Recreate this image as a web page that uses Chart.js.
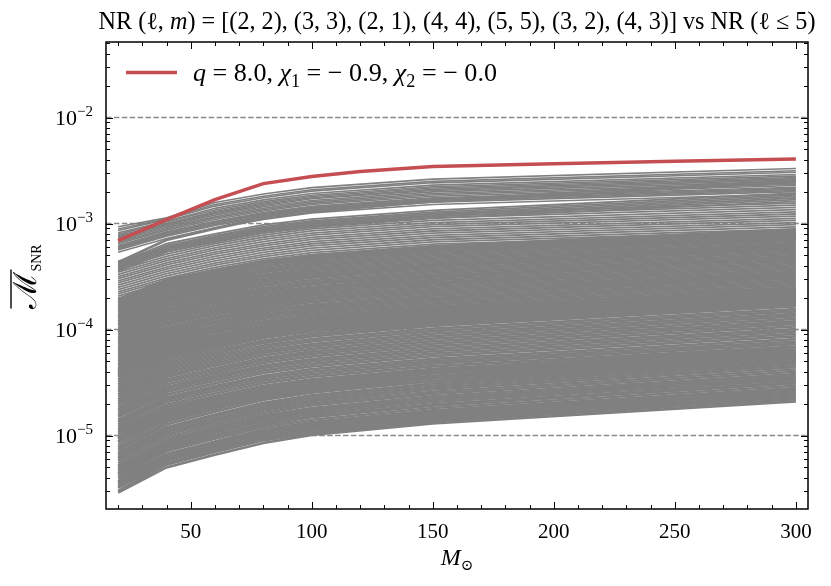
<!DOCTYPE html>
<html><head><meta charset="utf-8">
<script src="https://cdn.jsdelivr.net/npm/chart.js@4/dist/chart.umd.min.js"></script>
<style>html,body{margin:0;padding:0;background:#fff}</style>
</head><body><canvas id="c" width="831" height="586"></canvas>
<script>
// ---------------- data ----------------
const massGrid = [20, 40, 60, 80, 100, 150, 300];
const redMass = [20, 40, 60, 80, 100, 120, 150, 200, 250, 300];
const redValues = [6.9e-4, 1.09e-3, 1.68e-3, 2.38e-3, 2.77e-3, 3.1e-3, 3.45e-3, 3.66e-3, 3.86e-3, 4.07e-3];
const xTickValues = [50, 100, 150, 200, 250, 300];
const yTickExponents = [-2, -3, -4, -5];

const grayLow = [
[2.9e-6,5.0e-6,6.6e-6,8.5e-6,1.01e-5,1.30e-5,2.1e-5],
[3.0e-6,5.3e-6,7.0e-6,9.0e-6,1.05e-5,1.36e-5,2.2e-5],
[3.2e-6,5.5e-6,7.3e-6,9.4e-6,1.10e-5,1.42e-5,2.3e-5],
[3.3e-6,5.8e-6,7.6e-6,9.8e-6,1.15e-5,1.48e-5,2.4e-5],
[3.45e-6,6.0e-6,7.9e-6,1.02e-5,1.20e-5,1.54e-5,2.5e-5],
[3.6e-6,6.2e-6,8.2e-6,1.06e-5,1.25e-5,1.60e-5,2.6e-5],
[3.7e-6,6.5e-6,8.5e-6,1.10e-5,1.29e-5,1.67e-5,2.7e-5],
[3.9e-6,6.7e-6,8.8e-6,1.14e-5,1.34e-5,1.73e-5,2.8e-5],
[4.1e-6,7.1e-6,9.3e-6,1.20e-5,1.41e-5,1.82e-5,2.95e-5],
[4.3e-6,7.4e-6,9.8e-6,1.26e-5,1.49e-5,1.91e-5,3.1e-5],
[4.4e-6,7.7e-6,1.01e-5,1.30e-5,1.53e-5,1.97e-5,3.2e-5],
[4.6e-6,8.0e-6,1.06e-5,1.36e-5,1.60e-5,2.07e-5,3.35e-5],
[4.8e-6,8.4e-6,1.11e-5,1.42e-5,1.68e-5,2.16e-5,3.5e-5],
[5.0e-6,8.8e-6,1.15e-5,1.49e-5,1.75e-5,2.25e-5,3.65e-5],
[5.2e-6,9.1e-6,1.20e-5,1.55e-5,1.82e-5,2.35e-5,3.8e-5],
[5.5e-6,9.6e-6,1.26e-5,1.63e-5,1.92e-5,2.47e-5,4.0e-5],
[5.8e-6,1.01e-5,1.33e-5,1.71e-5,2.01e-5,2.59e-5,4.2e-5],
[6.1e-6,1.06e-5,1.39e-5,1.79e-5,2.11e-5,2.72e-5,4.4e-5],
[6.3e-6,1.10e-5,1.45e-5,1.87e-5,2.20e-5,2.84e-5,4.6e-5],
[6.6e-6,1.15e-5,1.52e-5,1.95e-5,2.30e-5,2.96e-5,4.8e-5],
[6.9e-6,1.20e-5,1.58e-5,2.04e-5,2.40e-5,3.09e-5,5.0e-5],
[7.3e-6,1.27e-5,1.68e-5,2.16e-5,2.54e-5,3.27e-5,5.3e-5],
[7.7e-6,1.34e-5,1.77e-5,2.28e-5,2.68e-5,3.46e-5,5.6e-5],
[8.1e-6,1.42e-5,1.86e-5,2.40e-5,2.83e-5,3.64e-5,5.9e-5],
[8.7e-6,1.51e-5,1.99e-5,2.56e-5,3.02e-5,3.89e-5,6.3e-5],
[9.4e-6,1.63e-5,2.15e-5,2.77e-5,3.26e-5,4.20e-5,6.8e-5]
];
const grayMidLow = [
[8.7e-6,1.42e-5,1.81e-5,2.26e-5,2.61e-5,3.26e-5,5.0e-5],
[9.2e-6,1.50e-5,1.91e-5,2.40e-5,2.76e-5,3.46e-5,5.3e-5],
[9.7e-6,1.58e-5,2.02e-5,2.53e-5,2.92e-5,3.65e-5,5.6e-5],
[1.03e-5,1.67e-5,2.13e-5,2.67e-5,3.07e-5,3.85e-5,5.9e-5],
[1.08e-5,1.75e-5,2.24e-5,2.80e-5,3.23e-5,4.04e-5,6.2e-5],
[1.13e-5,1.84e-5,2.35e-5,2.94e-5,3.39e-5,4.24e-5,6.5e-5],
[1.20e-5,1.95e-5,2.49e-5,3.12e-5,3.59e-5,4.50e-5,6.9e-5],
[1.27e-5,2.07e-5,2.64e-5,3.30e-5,3.80e-5,4.76e-5,7.3e-5],
[1.34e-5,2.18e-5,2.78e-5,3.48e-5,4.01e-5,5.02e-5,7.7e-5],
[1.41e-5,2.29e-5,2.92e-5,3.66e-5,4.22e-5,5.28e-5,8.1e-5],
[1.50e-5,2.43e-5,3.10e-5,3.89e-5,4.48e-5,5.61e-5,8.6e-5],
[1.58e-5,2.58e-5,3.29e-5,4.11e-5,4.74e-5,5.93e-5,9.1e-5],
[1.67e-5,2.72e-5,3.47e-5,4.34e-5,5.00e-5,6.26e-5,9.6e-5],
[1.76e-5,2.86e-5,3.65e-5,4.57e-5,5.26e-5,6.59e-5,1.01e-4],
[1.86e-5,3.03e-5,3.86e-5,4.84e-5,5.57e-5,6.98e-5,1.07e-4],
[1.97e-5,3.20e-5,4.08e-5,5.11e-5,5.89e-5,7.37e-5,1.13e-4],
[2.07e-5,3.37e-5,4.30e-5,5.38e-5,6.20e-5,7.76e-5,1.19e-4],
[2.19e-5,3.57e-5,4.55e-5,5.70e-5,6.56e-5,8.22e-5,1.26e-4],
[2.31e-5,3.76e-5,4.80e-5,6.01e-5,6.93e-5,8.67e-5,1.33e-4],
[2.44e-5,3.96e-5,5.05e-5,6.33e-5,7.29e-5,9.13e-5,1.40e-4],
[2.58e-5,4.19e-5,5.34e-5,6.69e-5,7.71e-5,9.65e-5,1.48e-4],
[2.71e-5,4.41e-5,5.63e-5,7.05e-5,8.13e-5,1.02e-4,1.56e-4],
[2.87e-5,4.67e-5,5.96e-5,7.46e-5,8.60e-5,1.08e-4,1.65e-4],
[3.03e-5,4.92e-5,6.28e-5,7.86e-5,9.07e-5,1.13e-4,1.74e-4],
[3.20e-5,5.21e-5,6.64e-5,8.32e-5,9.59e-5,1.20e-4,1.84e-4],
[3.38e-5,5.49e-5,7.00e-5,8.77e-5,1.01e-4,1.26e-4,1.94e-4],
[3.57e-5,5.80e-5,7.40e-5,9.27e-5,1.07e-4,1.34e-4,2.05e-4],
[3.76e-5,6.11e-5,7.80e-5,9.76e-5,1.13e-4,1.41e-4,2.16e-4],
[3.97e-5,6.45e-5,8.23e-5,1.03e-4,1.19e-4,1.49e-4,2.28e-4],
[4.18e-5,6.79e-5,8.66e-5,1.08e-4,1.25e-4,1.56e-4,2.40e-4]
];
const grayMidHigh = [
[3.72e-5,5.68e-5,7.02e-5,8.53e-5,9.66e-5,1.17e-4,1.70e-4],
[3.90e-5,5.95e-5,7.35e-5,8.94e-5,1.01e-4,1.23e-4,1.78e-4],
[4.10e-5,6.25e-5,7.72e-5,9.39e-5,1.06e-4,1.29e-4,1.87e-4],
[4.29e-5,6.55e-5,8.09e-5,9.84e-5,1.11e-4,1.35e-4,1.96e-4],
[4.51e-5,6.88e-5,8.51e-5,1.03e-4,1.17e-4,1.42e-4,2.06e-4],
[4.73e-5,7.21e-5,8.92e-5,1.08e-4,1.23e-4,1.49e-4,2.16e-4],
[4.97e-5,7.58e-5,9.38e-5,1.14e-4,1.29e-4,1.57e-4,2.27e-4],
[5.21e-5,7.95e-5,9.83e-5,1.19e-4,1.35e-4,1.64e-4,2.38e-4],
[5.48e-5,8.35e-5,1.03e-4,1.26e-4,1.42e-4,1.73e-4,2.50e-4],
[5.74e-5,8.75e-5,1.08e-4,1.32e-4,1.49e-4,1.81e-4,2.62e-4],
[6.02e-5,9.19e-5,1.14e-4,1.38e-4,1.56e-4,1.90e-4,2.75e-4],
[6.33e-5,9.65e-5,1.19e-4,1.45e-4,1.64e-4,1.99e-4,2.89e-4],
[6.64e-5,1.01e-4,1.25e-4,1.52e-4,1.72e-4,2.09e-4,3.03e-4],
[6.96e-5,1.06e-4,1.31e-4,1.60e-4,1.81e-4,2.19e-4,3.18e-4],
[7.31e-5,1.12e-4,1.38e-4,1.68e-4,1.90e-4,2.30e-4,3.34e-4],
[7.67e-5,1.17e-4,1.45e-4,1.76e-4,1.99e-4,2.42e-4,3.50e-4],
[8.06e-5,1.23e-4,1.52e-4,1.85e-4,2.09e-4,2.54e-4,3.68e-4],
[8.45e-5,1.29e-4,1.59e-4,1.94e-4,2.19e-4,2.66e-4,3.86e-4],
[8.87e-5,1.35e-4,1.67e-4,2.03e-4,2.30e-4,2.79e-4,4.05e-4],
[9.31e-5,1.42e-4,1.76e-4,2.13e-4,2.41e-4,2.93e-4,4.25e-4],
[9.77e-5,1.49e-4,1.84e-4,2.24e-4,2.53e-4,3.08e-4,4.46e-4],
[1.02e-4,1.56e-4,1.93e-4,2.35e-4,2.66e-4,3.23e-4,4.68e-4],
[1.08e-4,1.64e-4,2.03e-4,2.46e-4,2.79e-4,3.39e-4,4.91e-4],
[1.13e-4,1.72e-4,2.13e-4,2.59e-4,2.93e-4,3.56e-4,5.16e-4],
[1.19e-4,1.81e-4,2.24e-4,2.72e-4,3.08e-4,3.74e-4,5.42e-4],
[1.25e-4,1.90e-4,2.35e-4,2.86e-4,3.23e-4,3.93e-4,5.69e-4],
[1.31e-4,1.99e-4,2.47e-4,3.00e-4,3.39e-4,4.12e-4,5.97e-4],
[1.37e-4,2.09e-4,2.59e-4,3.15e-4,3.56e-4,4.33e-4,6.27e-4],
[1.44e-4,2.20e-4,2.72e-4,3.30e-4,3.74e-4,4.54e-4,6.58e-4],
[1.51e-4,2.31e-4,2.85e-4,3.47e-4,3.92e-4,4.77e-4,6.91e-4],
[1.59e-4,2.42e-4,2.99e-4,3.64e-4,4.12e-4,5.00e-4,7.25e-4],
[1.67e-4,2.54e-4,3.14e-4,3.82e-4,4.32e-4,5.25e-4,7.61e-4],
[1.75e-4,2.67e-4,3.30e-4,4.02e-4,4.54e-4,5.52e-4,8.00e-4],
[1.84e-4,2.81e-4,3.47e-4,4.22e-4,4.77e-4,5.80e-4,8.40e-4],
[1.93e-4,2.94e-4,3.63e-4,4.42e-4,5.00e-4,6.07e-4,8.80e-4]
];
const grayHigh = [
[1.97e-4,2.66e-4,3.35e-4,4.03e-4,4.63e-4,5.56e-4,7.0e-4],
[2.07e-4,2.79e-4,3.52e-4,4.23e-4,4.86e-4,5.84e-4,7.35e-4],
[2.17e-4,2.93e-4,3.69e-4,4.43e-4,5.09e-4,6.11e-4,7.7e-4],
[2.27e-4,3.06e-4,3.86e-4,4.63e-4,5.32e-4,6.39e-4,8.05e-4],
[2.38e-4,3.21e-4,4.05e-4,4.86e-4,5.59e-4,6.71e-4,8.45e-4],
[2.50e-4,3.36e-4,4.24e-4,5.09e-4,5.85e-4,7.03e-4,8.85e-4],
[2.62e-4,3.53e-4,4.45e-4,5.35e-4,6.15e-4,7.38e-4,9.3e-4],
[2.75e-4,3.71e-4,4.67e-4,5.61e-4,6.44e-4,7.74e-4,9.75e-4],
[2.88e-4,3.88e-4,4.89e-4,5.87e-4,6.74e-4,8.10e-4,1.02e-3],
[3.02e-4,4.07e-4,5.13e-4,6.15e-4,7.07e-4,8.50e-4,1.07e-3],
[3.16e-4,4.26e-4,5.36e-4,6.44e-4,7.40e-4,8.89e-4,1.12e-3],
[3.31e-4,4.47e-4,5.63e-4,6.76e-4,7.77e-4,9.33e-4,1.175e-3],
[3.47e-4,4.67e-4,5.89e-4,7.07e-4,8.13e-4,9.77e-4,1.23e-3],
[3.64e-4,4.90e-4,6.18e-4,7.42e-4,8.53e-4,1.02e-3,1.29e-3],
[3.81e-4,5.13e-4,6.47e-4,7.76e-4,8.92e-4,1.07e-3,1.35e-3],
[4.00e-4,5.40e-4,6.80e-4,8.17e-4,9.39e-4,1.13e-3,1.42e-3],
[4.20e-4,5.66e-4,7.14e-4,8.57e-4,9.85e-4,1.18e-3,1.49e-3],
[4.40e-4,5.93e-4,7.47e-4,8.97e-4,1.03e-3,1.24e-3,1.56e-3],
[3.55e-4,5.41e-4,6.69e-4,8.13e-4,9.20e-4,1.12e-3,1.62e-3],
[3.68e-4,5.61e-4,6.94e-4,8.43e-4,9.54e-4,1.16e-3,1.68e-3],
[3.81e-4,5.81e-4,7.19e-4,8.73e-4,9.88e-4,1.20e-3,1.74e-3],
[3.94e-4,6.01e-4,7.43e-4,9.04e-4,1.02e-3,1.24e-3,1.80e-3],
[4.07e-4,6.21e-4,7.68e-4,9.34e-4,1.06e-3,1.28e-3,1.86e-3],
[4.23e-4,6.45e-4,7.97e-4,9.69e-4,1.10e-3,1.33e-3,1.93e-3],
[4.26e-4,6.93e-4,8.84e-4,1.11e-3,1.28e-3,1.60e-3,2.45e-3],
[4.35e-4,7.10e-4,9.10e-4,1.15e-3,1.32e-3,1.66e-3,2.55e-3]
];
const grayTop = [
[5.36e-4,7.22e-4,9.10e-4,1.09e-3,1.26e-3,1.51e-3,1.9e-3],
[5.64e-4,7.60e-4,9.58e-4,1.15e-3,1.32e-3,1.59e-3,2.0e-3],
[5.78e-4,7.79e-4,9.82e-4,1.18e-3,1.36e-3,1.63e-3,2.05e-3],
[5.92e-4,7.98e-4,1.01e-3,1.21e-3,1.39e-3,1.67e-3,2.1e-3],
[6.06e-4,8.17e-4,1.03e-3,1.24e-3,1.42e-3,1.71e-3,2.15e-3],
[6.20e-4,8.36e-4,1.05e-3,1.27e-3,1.45e-3,1.75e-3,2.2e-3],
[6.43e-4,8.66e-4,1.09e-3,1.31e-3,1.51e-3,1.81e-3,2.28e-3],
[6.63e-4,8.93e-4,1.13e-3,1.35e-3,1.55e-3,1.87e-3,2.35e-3],
[6.82e-4,9.20e-4,1.16e-3,1.39e-3,1.60e-3,1.92e-3,2.42e-3],
[7.05e-4,9.50e-4,1.20e-3,1.44e-3,1.65e-3,1.99e-3,2.5e-3],
[7.28e-4,9.80e-4,1.24e-3,1.48e-3,1.71e-3,2.05e-3,2.58e-3],
[7.47e-4,1.0e-3,1.27e-3,1.52e-3,1.75e-3,2.10e-3,2.65e-3],
[7.67e-4,1.0e-3,1.30e-3,1.56e-3,1.80e-3,2.16e-3,2.72e-3],
[7.90e-4,1.04e-3,1.34e-3,1.61e-3,1.85e-3,2.22e-3,2.8e-3],
[8.18e-4,1.05e-3,1.39e-3,1.67e-3,1.92e-3,2.30e-3,2.9e-3],
[8.60e-4,1.09e-3,1.46e-3,1.75e-3,2.02e-3,2.42e-3,3.05e-3],
[8.88e-4,1.11e-3,1.51e-3,1.81e-3,2.08e-3,2.50e-3,3.15e-3],
[9.31e-4,1.13e-3,1.58e-3,1.90e-3,2.18e-3,2.62e-3,3.3e-3]
];

// ---------------- chart ----------------
const SERIF = '"Liberation Serif","DejaVu Serif",serif';
function font(size, italic) { return (italic ? 'italic ' : '') + size.toFixed(2) + 'px ' + SERIF; }
function measure(ctx, segs) {
  let w = 0;
  for (const s of segs) { ctx.font = s.f; s.w = ctx.measureText(s.t).width; w += s.w; }
  return w;
}
function rich(ctx, segs, x, y, align) {
  const w = measure(ctx, segs);
  let cx = align === 'center' ? x - w / 2 : align === 'right' ? x - w : x;
  ctx.textAlign = 'left'; ctx.textBaseline = 'alphabetic';
  for (const s of segs) { ctx.font = s.f; ctx.fillText(s.t, cx, y + (s.dy || 0)); s.x = cx; cx += s.w; }
  return w;
}
function fitSegs(ctx, make, target) {
  const w = measure(ctx, make(20));
  return make(20 * target / w);
}
const titleSegs = s => [
  {t: 'NR (', f: font(s)}, {t: 'ℓ', f: font(s)}, {t: ', ', f: font(s)}, {t: 'm', f: font(s, true)},
  {t: ') = [(2, 2), (3, 3), (2, 1), (4, 4), (5, 5), (3, 2), (4, 3)] vs NR (', f: font(s)},
  {t: 'ℓ', f: font(s)}, {t: ' ≤ 5)', f: font(s)}
];
const legendSegs = s => [
  {t: 'q', f: font(s, true)}, {t: ' = 8.0, ', f: font(s)},
  {t: 'χ', f: font(s, true)}, {t: '1', f: font(s * 0.7), dy: s * 0.22},
  {t: ' = − 0.9, ', f: font(s)},
  {t: 'χ', f: font(s, true)}, {t: '2', f: font(s * 0.7), dy: s * 0.22},
  {t: ' = − 0.0', f: font(s)}
];

const decor = {
  id: 'decor',
  beforeDatasetsDraw(chart) {
    const {ctx, chartArea: a, scales: {y}} = chart;
    ctx.save();
    ctx.strokeStyle = '#8a8a8a'; ctx.lineWidth = 1.4; ctx.setLineDash([5.5, 2.4]);
    for (const e of yTickExponents) {
      const py = y.getPixelForValue(Math.pow(10, e));
      ctx.beginPath(); ctx.moveTo(a.left, py); ctx.lineTo(a.right, py); ctx.stroke();
    }
    ctx.restore();
  },
  afterDatasetsDraw(chart) {
    const {ctx, chartArea: a, scales: {x, y}} = chart;
    ctx.save();
    ctx.strokeStyle = '#000'; ctx.fillStyle = '#000'; ctx.lineWidth = 1;
    for (let v = 20; v <= 300; v += 10) {
      const major = v % 50 === 0;
      const len = major ? 7 : 4;
      const px = Math.round(x.getPixelForValue(v)) + 0.5;
      ctx.beginPath();
      ctx.moveTo(px, a.bottom); ctx.lineTo(px, a.bottom - len);
      ctx.moveTo(px, a.top); ctx.lineTo(px, a.top + len);
      ctx.stroke();
    }
    for (let e = -6; e <= -2; e++) {
      for (let k = 1; k <= 9; k++) {
        const v = k * Math.pow(10, e);
        if (v < y.min || v > y.max) continue;
        const len = k === 1 ? 7 : 4;
        const py = Math.round(y.getPixelForValue(v)) + 0.5;
        ctx.beginPath();
        ctx.moveTo(a.left, py); ctx.lineTo(a.left + len, py);
        ctx.moveTo(a.right, py); ctx.lineTo(a.right - len, py);
        ctx.stroke();
      }
    }
    ctx.lineWidth = 1.5;
    ctx.strokeRect(a.left, a.top, a.right - a.left, a.bottom - a.top);

    ctx.textAlign = 'center'; ctx.textBaseline = 'alphabetic';
    ctx.font = font(21);
    for (const v of xTickValues) ctx.fillText(String(v), x.getPixelForValue(v), 538);
    for (const e of yTickExponents) {
      const py = y.getPixelForValue(Math.pow(10, e));
      rich(ctx, [{t: '10', f: font(22)}, {t: '−' + (-e), f: font(15), dy: -9}], 93, py + 7, 'right');
    }
    rich(ctx, fitSegs(ctx, titleSegs, 717), (a.left + a.right) / 2, 29, 'center');
    const lx0 = 126, lx1 = 177, ly = 72.5;
    const red = chart.data.datasets[0];
    ctx.strokeStyle = red.borderColor; ctx.lineWidth = red.borderWidth;
    ctx.beginPath(); ctx.moveTo(lx0, ly); ctx.lineTo(lx1, ly); ctx.stroke();
    rich(ctx, fitSegs(ctx, legendSegs, 304), 193, 81, 'left');
    rich(ctx, [{t: 'M', f: font(24, true)}, {t: '⊙', f: font(15), dy: 5}], (a.left + a.right) / 2, 565, 'center');
    ctx.save();
    ctx.translate(36, (a.top + a.bottom) / 2 + 1);
    ctx.rotate(-Math.PI / 2);
    const ySegs = [{t: 'ℳ', f: font(32)}, {t: 'SNR', f: font(14), dy: 5}];
    rich(ctx, ySegs, 0, 0, 'center');
    ctx.strokeStyle = '#000'; ctx.lineWidth = 1.4;
    ctx.beginPath(); ctx.moveTo(ySegs[0].x, -25); ctx.lineTo(ySegs[0].x + ySegs[0].w + 2, -25); ctx.stroke();
    ctx.restore();
    ctx.restore();
  }
};

const datasets = [{
  label: 'q = 8.0, χ1 = − 0.9, χ2 = − 0.0',
  data: redMass.map((m, i) => ({x: m, y: redValues[i]})),
  borderColor: '#c44e52', borderWidth: 3.5, pointRadius: 0, fill: false
}];
[[grayLow, 2.6], [grayMidLow, 2.8], [grayMidHigh, 2.8], [grayHigh, 1.8], [grayTop, 1.6]].forEach(([rows, w]) => {
  rows.forEach(r => datasets.push({
    data: massGrid.map((m, i) => ({x: m, y: r[i]})),
    borderColor: '#808080', borderWidth: w, pointRadius: 0, fill: false
  }));
});

new Chart(document.getElementById('c'), {
  type: 'line',
  data: {datasets},
  options: {
    responsive: false, animation: false, devicePixelRatio: 1, events: [],
    layout: {padding: {left: 106, right: 23, top: 42, bottom: 77}},
    plugins: {legend: {display: false}, tooltip: {enabled: false}, title: {display: false}},
    elements: {line: {tension: 0}},
    scales: {
      x: {type: 'linear', min: 15, max: 305, display: false},
      y: {type: 'logarithmic', min: 2.026e-6, max: 5.157e-2, display: false}
    }
  },
  plugins: [decor]
});
</script></body></html>
